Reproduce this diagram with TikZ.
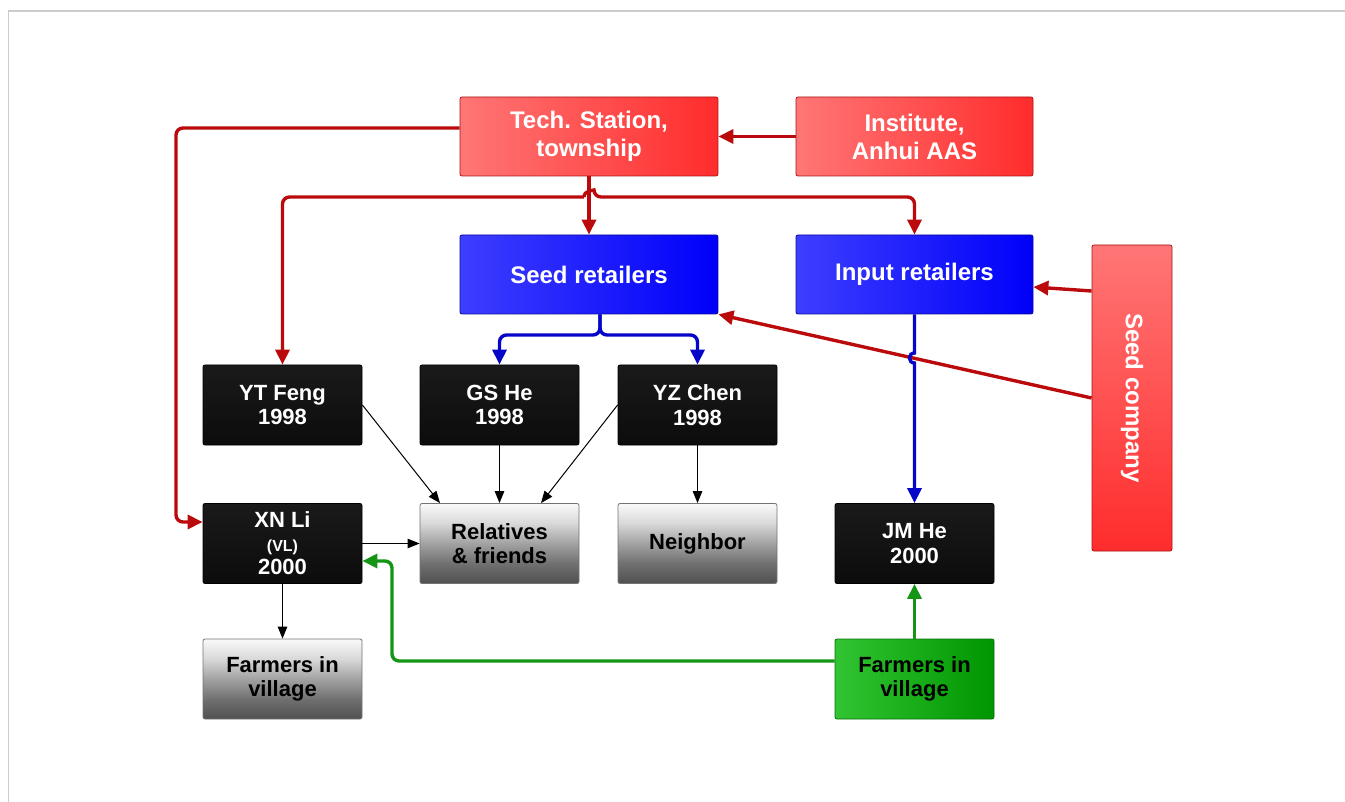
\documentclass[tikz,border=0pt]{standalone}
\usepackage{fontspec}
\setmainfont{Liberation Sans}
\usetikzlibrary{arrows.meta}

% palette
\definecolor{redL}{RGB}{255,118,118}
\definecolor{redR}{RGB}{255,44,44}
\definecolor{redD}{RGB}{170,20,20}
\definecolor{blueL}{RGB}{62,62,255}
\definecolor{blueR}{RGB}{0,0,250}
\definecolor{blueD}{RGB}{10,10,150}
\definecolor{greenL}{RGB}{50,196,50}
\definecolor{greenR}{RGB}{0,150,0}
\definecolor{greenD}{RGB}{10,110,10}
\definecolor{blackT}{RGB}{26,26,26}
\definecolor{blackB}{RGB}{12,12,12}
\definecolor{redC}{RGB}{186,10,12}
\definecolor{blueC}{RGB}{6,6,200}
\definecolor{greenC}{RGB}{20,150,20}
\definecolor{frameC}{RGB}{204,204,204}

\definecolor{gs0}{RGB}{80,80,80}
\definecolor{gs1}{RGB}{112,112,112}
\definecolor{gs2}{RGB}{162,162,162}
\definecolor{gs3}{RGB}{216,216,216}
\definecolor{gs4}{RGB}{250,250,250}
\pgfdeclareverticalshading{grayfade}{100bp}{%
  color(0bp)=(gs0); color(25bp)=(gs0); color(37.5bp)=(gs1);
  color(50bp)=(gs2); color(62.5bp)=(gs3); color(75bp)=(gs4); color(100bp)=(gs4)}

\tikzset{
  box/.style={rectangle, rounded corners=2pt, inner sep=0pt, align=center,
    line width=0.8pt, font=\fontsize{22}{24.5}\selectfont\bfseries},
  bigtext/.style={font=\fontsize{24}{28}\selectfont\bfseries},
  redbox/.style={box, bigtext, left color=redL, right color=redR, draw=redD,
    text=white, minimum width=258pt, minimum height=79pt},
  redvbox/.style={box, bigtext, top color=redL, bottom color=redR, draw=redD,
    text=white, minimum width=80pt, minimum height=306pt},
  bluebox/.style={box, bigtext, left color=blueL, right color=blueR, draw=blueD,
    text=white, minimum width=258pt, minimum height=79pt},
  blackbox/.style={box, top color=blackT, bottom color=blackB, draw=black,
    text=white, minimum width=159pt, minimum height=80pt},
  graybox/.style={box, shading=grayfade, draw=black!55, text=black,
    minimum width=159pt, minimum height=80pt},
  greenbox/.style={box, left color=greenL, right color=greenR, draw=greenD,
    text=black, minimum width=159pt, minimum height=80pt},
  bigtip/.style={-{Triangle[length=15pt,width=14pt]}},
  redline/.style={draw=redC, line width=3.4pt, rounded corners=7pt, bigtip},
  blueline/.style={draw=blueC, line width=3.4pt, rounded corners=7pt, bigtip},
  greenline/.style={draw=greenC, line width=3.4pt, rounded corners=7pt, bigtip},
  thinline/.style={draw=black, line width=1pt, -{Triangle[length=12pt,width=9.5pt]}},
}

\begin{document}
\begin{tikzpicture}[x=1pt,y=-1pt]
\useasboundingbox (0,0) rectangle (1345,802);

% page frame
\draw[frameC, line width=1.5pt] (8.5,802) -- (8.5,11) -- (1345,11);

% sources
\node[redbox] (tech) at (589,136.5) {Tech. Station,\\township};
\node[redbox, minimum width=237pt] (inst) at (914.5,136.5) {Institute,\\Anhui AAS};
\node[redvbox] (seedco) at (1132,398) {\rotatebox{-90}{Seed company}};

% retailers
\node[bluebox] (seed) at (589,274.5) {Seed retailers};
\node[bluebox, minimum width=237pt] (input) at (914.5,274.5) {Input retailers};

% farmers
\node[blackbox] (ytfeng) at (282.5,405) {YT Feng\\1998};
\node[blackbox] (gshe) at (499.5,405) {GS He\\1998};
\node[blackbox] (yzchen) at (697.5,405) {YZ Chen\\1998};
\node[blackbox] (xnli) at (282.5,543.5) {XN Li\\[-1pt]{\fontsize{16}{18}\selectfont(VL)}\\[-1pt]2000};
\node[blackbox] (jmhe) at (914.5,543.5) {JM He\\2000};

% receivers
\node[graybox] (rel) at (499.5,543.5) {Relatives\\\& friends};
\node[graybox] (nbr) at (697.5,543.5) {Neighbor};
\node[graybox] (farmL) at (282.5,679) {Farmers in\\village};
\node[greenbox] (farmG) at (914.5,679) {Farmers in\\village};

% extension links from the station and the institute
\draw[redline] (inst.west) -- (tech.east);
\draw[redline] ([yshift=8.5pt]tech.west) -| (176,522) -- ([yshift=21.5pt]xnli.west);
\draw[redline] (tech.south) -- (seed.north);
\coordinate (busL) at (584,197);
\draw[redline] (busL) -| (ytfeng.north);
\draw[redline] (busL) .. controls (584,190.3) and (594,190.3) .. (594,197) -| (input.north);

% seed company
\draw[redline] ([yshift=107pt]seedco.west) -- ([yshift=-12.5pt]input.east);
\draw[redline] (seedco.west) -- (seed.south east);

% retailers to farmers
\draw[blueline] ([xshift=11pt]seed.south) -- (600,335) -| (gshe.north);
\draw[blueline] ([xshift=11pt]seed.south) -- (600,335) -| (yzchen.north);
\draw[blueline, sharp corners] (input.south) -- (914.5,353)
  .. controls (907.8,353) and (907.8,363) .. (914.5,363) -- (jmhe.north);

% farmer to farmer
\draw[thinline] (ytfeng.east) -- ([xshift=-59.5pt]rel.north);
\draw[thinline] (gshe.south) -- (rel.north);
\draw[thinline] (yzchen.west) -- ([xshift=41.5pt]rel.north);
\draw[thinline] (yzchen.south) -- (nbr.north);
\draw[thinline] (xnli.east) -- (rel.west);
\draw[thinline] (xnli.south) -- (farmL.north);

% village farmers
\draw[greenline] ([yshift=18pt]farmG.west) -| (392,561) -- ([yshift=-17.5pt]xnli.east);
\draw[greenline] (farmG.north) -- (jmhe.south);
\end{tikzpicture}
\end{document}
